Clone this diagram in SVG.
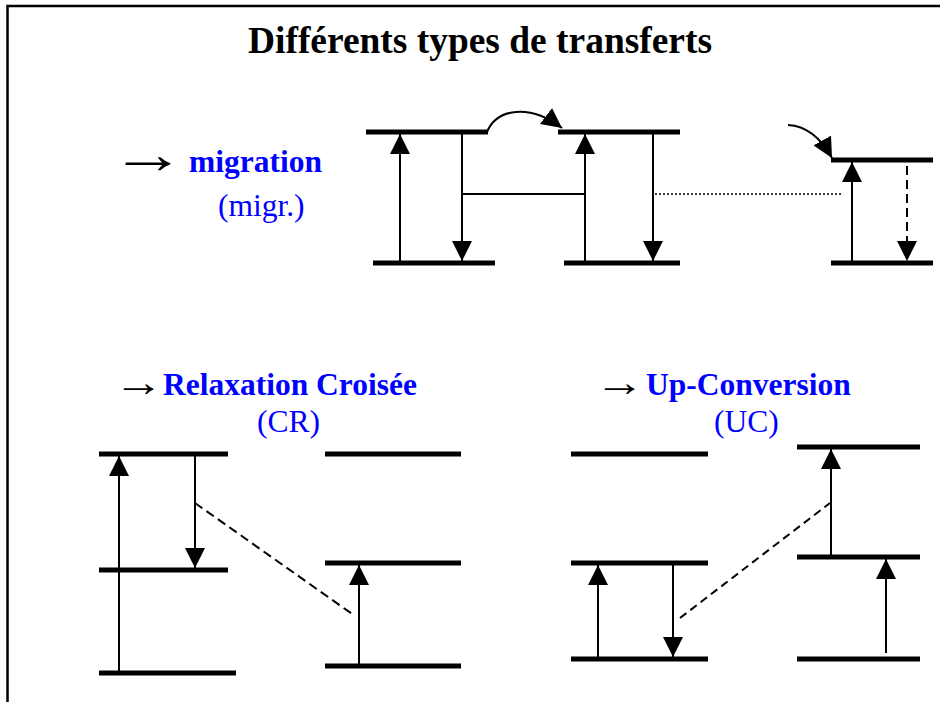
<svg xmlns="http://www.w3.org/2000/svg" width="940" height="702" viewBox="0 0 940 702">
<style>
.lvl{stroke:#000;stroke-width:5;fill:none}
.ar{stroke:#000;stroke-width:2;fill:none;marker-end:url(#ah)}
.ln{stroke:#000;stroke-width:2;fill:none}
.dash{stroke-dasharray:9,5}
.dot{stroke:#000;stroke-width:1.5;stroke-dasharray:2,2;fill:none}
.t{font-family:"Liberation Serif","Times New Roman",serif}
.b{font-weight:bold;fill:#0000FF;font-size:31.5px}
.r{fill:#0000FF;font-size:31.5px}
.k{fill:#000}
</style>
<defs>
<marker id="ah" viewBox="0 0 20 20" refX="20" refY="10" markerWidth="20" markerHeight="20" markerUnits="userSpaceOnUse" orient="auto"><path d="M0,0 L20,10 L0,20 z" fill="#000"/></marker>
</defs>
<rect width="940" height="702" fill="#fff"/>
<path d="M7.5,702 V6 H940" stroke="#000" stroke-width="2.5" fill="none"/>
<g id="title"><text class="t k" x="248" y="53" font-size="38" font-weight="bold" textLength="464" lengthAdjust="spacingAndGlyphs">Différents types de transferts</text></g>
<g id="label-migration">
<text class="t k" transform="translate(110.6,173) scale(1.35,1)" font-size="56">→</text>
<text class="t b" x="189" y="172">migration</text>
<text class="t r" x="218" y="216">(migr.)</text>
</g>
<g id="label-cr">
<text class="t k" transform="translate(113.5,396) scale(1.25,1)" font-size="40">→</text>
<text class="t b" x="163" y="395">Relaxation Croisée</text>
<text class="t r" x="257" y="432">(CR)</text>
</g>
<g id="label-uc">
<text class="t k" transform="translate(594.5,396) scale(1.25,1)" font-size="40">→</text>
<text class="t b" x="646" y="395">Up-Conversion</text>
<text class="t r" x="714" y="432">(UC)</text>
</g>
<g id="migr-ion1"><path class="lvl" d="M366,132 H488 M373,263 H495"/></g>
<g id="migr-ion2"><path class="lvl" d="M558,132 H680 M564,263 H680"/></g>
<g id="migr-ion3"><path class="lvl" d="M831,160 H933 M831,263 H933"/></g>
<g id="cr-donor"><path class="lvl" d="M99,454 H228 M99,570 H228 M99,673 H236"/></g>
<g id="cr-acceptor"><path class="lvl" d="M325,454 H461 M325,563 H461 M325,666 H461"/></g>
<g id="uc-donor"><path class="lvl" d="M571,454 H708 M571,563 H708 M571,659 H708"/></g>
<g id="uc-acceptor"><path class="lvl" d="M797,447 H920 M797,557 H920 M797,659 H920"/></g>
<g id="connectors">
<path class="ar" d="M400,263 V134"/>
<path class="ar" d="M462,132 V261"/>
<path class="ar" d="M585,263 V134"/>
<path class="ar" d="M653,132 V261"/>
<path class="ln" d="M462,194 H585"/>
<path class="dot" d="M655,194 H842"/>
<path class="ar" d="M852,263 V162"/>
<path class="ar dash" d="M907,166 V261"/>
<path class="ar" d="M487,132 C497,108 530,104 562,128"/>
<path class="ar" d="M788,125 C808,126 822,140 832,158"/>
<path class="ar" d="M119,673 V456"/>
<path class="ar" d="M195,454 V568"/>
<path class="ln dash" d="M195,503 L355,616" stroke-dasharray="8,5"/>
<path class="ar" d="M359,666 V565"/>
<path class="ar" d="M598,659 V565"/>
<path class="ar" d="M673,563 V657"/>
<path class="ln" d="M680,618 L830,503" stroke-dasharray="8,5"/>
<path class="ar" d="M831,557 V449"/>
<path class="ar" d="M886,653 V559"/>
</g>
</svg>
